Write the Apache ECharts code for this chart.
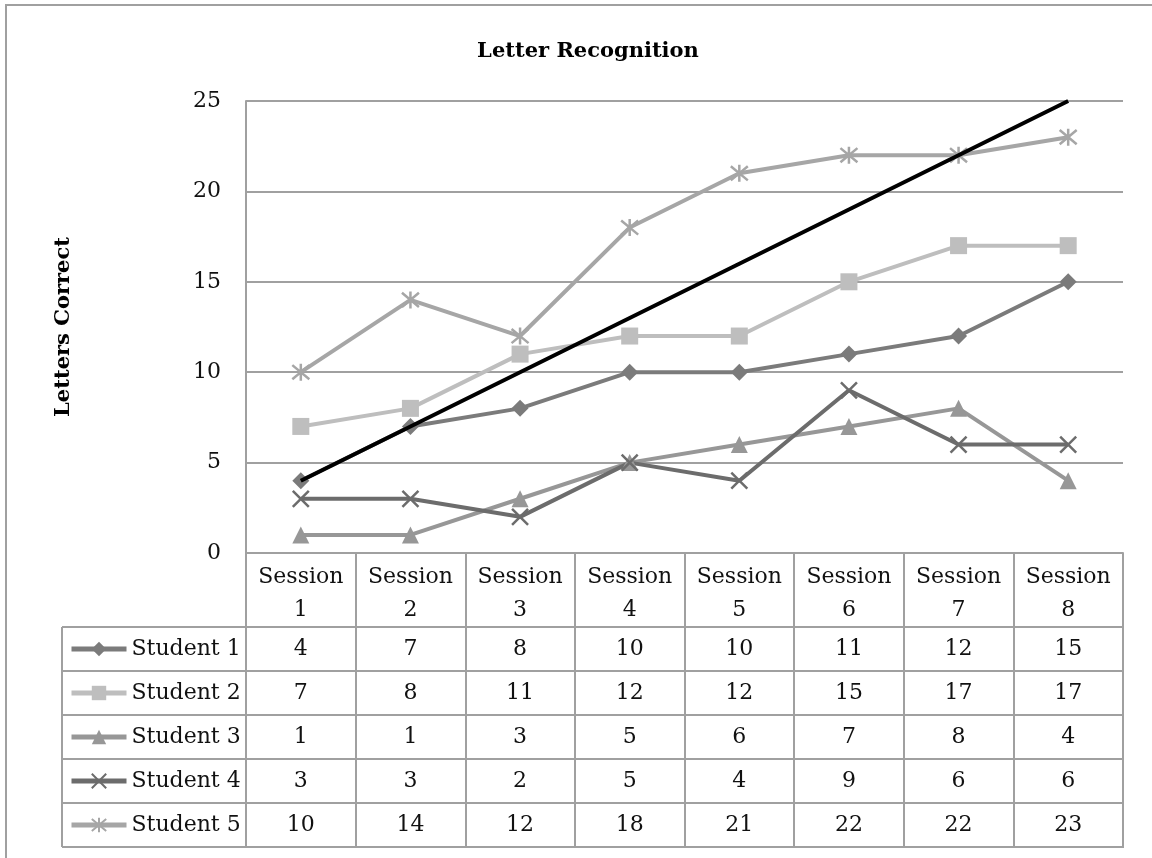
<!DOCTYPE html>
<html>
<head>
<meta charset="utf-8">
<title>Letter Recognition</title>
<script src="https://cdn.jsdelivr.net/npm/echarts@6/dist/echarts.min.js"></script>
<style>
    html, body { margin: 0; padding: 0; background: #fff; }
    #chart { width: 1152px; height: 858px; }
</style>
</head>
<body>
<div id="chart"></div>
<script>
    const sessions = ['Session 1', 'Session 2', 'Session 3', 'Session 4', 'Session 5', 'Session 6', 'Session 7', 'Session 8'];
    const studentNames = ['Student 1', 'Student 2', 'Student 3', 'Student 4', 'Student 5'];
    const student1 = [4, 7, 8, 10, 10, 11, 12, 15];
    const student2 = [7, 8, 11, 12, 12, 15, 17, 17];
    const student3 = [1, 1, 3, 5, 6, 7, 8, 4];
    const student4 = [3, 3, 2, 5, 4, 9, 6, 6];
    const student5 = [10, 14, 12, 18, 21, 22, 22, 23];
    const aimLine = [4, 7, 10, 13, 16, 19, 22, 25];
    const yMin = 0;
    const yMax = 25;
    const yStep = 5;

    const FONT = 'DejaVu Serif';
    const GRAY = '#a0a0a0';
    const GRID = { left: 246, right: 29, top: 101, bottom: 305 };
    const HEADER_H = 74;   // header row (Session n) height
    const ROW_H = 44;      // table row height
    const TABLE_LEFT = 62;
    const W = 1152, H = 858;

    const rows = [student1, student2, student3, student4, student5];
    const colors = ['#7b7b7b', '#bebebe', '#979797', '#6c6c6c', '#a6a6a6'];
    const symbols = [
        'diamond',
        'rect',
        'triangle',
        'path://M0,0L10,10M10,0L0,10',
        'path://M0,0L10,10M10,0L0,10M5,-1L5,11'
    ];
    const symbolSizes = [17, 17, 17, 16, 17];

    let chart = echarts.init(document.getElementById('chart'));

    function buildOption() {
        const tableTop = H - GRID.bottom;
        const tableRight = W - GRID.right;

        // one extra x axis per student row, used to print the table values
        const rowAxes = rows.map((vals, i) => ({
            type: 'category',
            gridIndex: 0,
            position: 'bottom',
            offset: HEADER_H + i * ROW_H,
            data: sessions,
            axisLine: { show: false },
            axisTick: { show: false },
            splitLine: { show: false },
            axisLabel: {
                interval: 0,
                margin: 0,
                fontFamily: FONT,
                fontSize: 22,
                lineHeight: ROW_H,
                color: '#111',
                formatter: (v, idx) => String(vals[idx])
            }
        }));

        // table rules
        const lines = [];
        for (let i = 0; i <= rows.length; i++) {
            const y = tableTop + HEADER_H + i * ROW_H;
            lines.push({
                type: 'line',
                shape: { x1: TABLE_LEFT, y1: y, x2: tableRight + 1, y2: y },
                style: { stroke: GRAY, lineWidth: 2 }
            });
        }
        lines.push({
            type: 'line',
            shape: { x1: TABLE_LEFT, y1: tableTop + HEADER_H, x2: TABLE_LEFT, y2: tableTop + HEADER_H + rows.length * ROW_H },
            style: { stroke: GRAY, lineWidth: 2 }
        });
        // outer frame
        lines.push({
            type: 'rect',
            shape: { x: 6, y: 5, width: W + 20, height: H + 20 },
            style: { stroke: GRAY, lineWidth: 2, fill: 'none' }
        });

        const series = rows.map((vals, i) => ({
            name: studentNames[i],
            type: 'line',
            data: vals,
            symbol: symbols[i],
            symbolSize: symbolSizes[i],
            showAllSymbol: true,
            lineStyle: { color: colors[i], width: 4 },
            itemStyle: {
                color: colors[i],
                borderColor: colors[i],
                borderWidth: i >= 3 ? 2.5 : 0
            }
        }));
        series.push({
            name: 'Aim',
            type: 'line',
            data: aimLine,
            symbol: 'none',
            lineStyle: { color: '#000', width: 4 },
            z: 5
        });

        return {
            animation: false,
            backgroundColor: '#fff',
            title: {
                text: 'Letter Recognition',
                left: 583,
                top: 36,
                textAlign: 'center',
                textStyle: { fontFamily: FONT, fontSize: 21, fontWeight: 'bold', color: '#000' }
            },
            legend: studentNames.map((name, i) => ({
                data: [name],
                orient: 'vertical',
                left: 69,
                top: tableTop + HEADER_H + i * ROW_H + (ROW_H - 24) / 2,
                padding: 0,
                selectedMode: false,
                itemWidth: 55,
                itemHeight: 18,
                lineStyle: { width: 5 },
                textStyle: { fontFamily: FONT, fontSize: 22, lineHeight: 24, color: '#111' }
            })),
            grid: GRID,
            xAxis: [{
                type: 'category',
                position: 'bottom',
                data: sessions,
                axisLine: { show: true, lineStyle: { color: GRAY, width: 2 } },
                axisTick: {
                    show: true,
                    interval: 0,
                    length: HEADER_H + rows.length * ROW_H,
                    lineStyle: { color: GRAY, width: 2 }
                },
                axisLabel: {
                    interval: 0,
                    margin: 8,
                    fontFamily: FONT,
                    fontSize: 22,
                    lineHeight: 33,
                    color: '#111',
                    formatter: v => v.replace(' ', '\n')
                }
            }].concat(rowAxes),
            yAxis: {
                type: 'value',
                min: yMin,
                max: yMax,
                interval: yStep,
                name: 'Letters Correct',
                nameLocation: 'middle',
                nameRotate: 90,
                nameGap: 172,
                nameTextStyle: { fontFamily: FONT, fontSize: 21, fontWeight: 'bold', color: '#000' },
                axisLine: { show: true, lineStyle: { color: GRAY, width: 2 } },
                axisTick: { show: false },
                splitLine: { show: true, lineStyle: { color: GRAY, width: 2 } },
                axisLabel: { margin: 25, fontFamily: FONT, fontSize: 22, color: '#111', padding: [6, 0, 0, 0] }
            },
            graphic: lines,
            series: series
        };
    }

    chart.setOption(buildOption());
</script>
</body>
</html>
